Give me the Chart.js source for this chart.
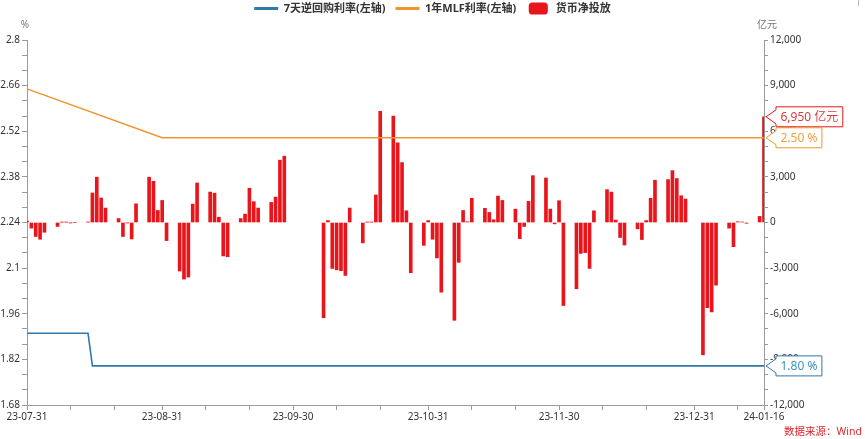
<!DOCTYPE html>
<html>
<head>
<meta charset="utf-8">
<script src="https://cdn.jsdelivr.net/npm/chart.js@4.4.1/dist/chart.umd.min.js"></script>
<style>
  html, body { margin: 0; padding: 0; background: #fff; }
  #wrap { position: relative; width: 865px; height: 439px; }
</style>
</head>
<body>
<div id="wrap"><canvas id="chart"></canvas></div>
<script>
// calendar span of the x axis
const startDate = '2023-07-31';
const endDate = '2024-01-16';

// labelled dates and the extra tick marks on the x axis
const xTickLabels = ['23-07-31', '23-08-31', '23-09-30', '23-10-31', '23-11-30', '23-12-31', '24-01-16'];
const xTickMarks = ['23-08-10', '23-08-20', '23-09-10', '23-09-20', '23-10-10', '23-10-20',
  '23-11-10', '23-11-20', '23-12-10', '23-12-20', '24-01-10'];

// axis tick labels
const leftTickLabels = [1.68, 1.82, 1.96, 2.1, 2.24, 2.38, 2.52, 2.66, 2.8];
const rightTickLabels = [-12000, -9000, -6000, -3000, 0, 3000, 6000, 9000, 12000];

// 货币净投放 (亿元), working days only
const netDates = [
  '2023-07-31', '2023-08-01', '2023-08-02', '2023-08-03', '2023-08-04',
  '2023-08-07', '2023-08-08', '2023-08-09', '2023-08-10', '2023-08-11',
  '2023-08-14', '2023-08-15', '2023-08-16', '2023-08-17', '2023-08-18',
  '2023-08-21', '2023-08-22', '2023-08-23', '2023-08-24', '2023-08-25',
  '2023-08-28', '2023-08-29', '2023-08-30', '2023-08-31', '2023-09-01',
  '2023-09-04', '2023-09-05', '2023-09-06', '2023-09-07', '2023-09-08',
  '2023-09-11', '2023-09-12', '2023-09-13', '2023-09-14', '2023-09-15',
  '2023-09-18', '2023-09-19', '2023-09-20', '2023-09-21', '2023-09-22',
  '2023-09-25', '2023-09-26', '2023-09-27', '2023-09-28',
  '2023-10-07', '2023-10-08', '2023-10-09', '2023-10-10', '2023-10-11', '2023-10-12', '2023-10-13',
  '2023-10-16', '2023-10-17', '2023-10-18', '2023-10-19', '2023-10-20',
  '2023-10-23', '2023-10-24', '2023-10-25', '2023-10-26', '2023-10-27',
  '2023-10-30', '2023-10-31', '2023-11-01', '2023-11-02', '2023-11-03',
  '2023-11-06', '2023-11-07', '2023-11-08', '2023-11-09', '2023-11-10',
  '2023-11-13', '2023-11-14', '2023-11-15', '2023-11-16', '2023-11-17',
  '2023-11-20', '2023-11-21', '2023-11-22', '2023-11-23', '2023-11-24',
  '2023-11-27', '2023-11-28', '2023-11-29', '2023-11-30', '2023-12-01',
  '2023-12-04', '2023-12-05', '2023-12-06', '2023-12-07', '2023-12-08',
  '2023-12-11', '2023-12-12', '2023-12-13', '2023-12-14', '2023-12-15',
  '2023-12-18', '2023-12-19', '2023-12-20', '2023-12-21', '2023-12-22',
  '2023-12-25', '2023-12-26', '2023-12-27', '2023-12-28', '2023-12-29',
  '2024-01-02', '2024-01-03', '2024-01-04', '2024-01-05',
  '2024-01-08', '2024-01-09', '2024-01-10', '2024-01-11', '2024-01-12',
  '2024-01-15', '2024-01-16'
];
const netValues = [
  100, -370, -920, -1100, -640,
  -260, 20, 20, -20, 0,
  20, 1940, 2980, 1610, 950,
  260, -920, -20, -1080, 1230,
  2980, 2710, 790, 1450, -1190,
  -3190, -3720, -3590, 1210, 2600,
  2000, 1930, 350, -2200, -2250,
  260, 550, 2250, 1370, 950,
  1320, 1670, 4100, 4360,
  -6260, 130, -3020, -3110, -3170, -3480, 950,
  -1340, 20, 20, 1810, 7310,
  7000, 5240, 3940, 770, -3300,
  -1500, 130, -1100, -2330, -4580,
  -6430, -2620, 790, 50, 1590,
  930, 660, 180, 1740, 1450,
  880, -1060, -260, 1390, 3080,
  2930, 880, -90, 1430, -5460,
  -4360, -2030, -1980, -3020, 770,
  2160, 2000, 160, -990, -1480,
  -420, -1120, 130, 1590, 2780,
  2820, 3410, 2890, 1760, 1540,
  -8700, -5600, -5880, -4120,
  -370, -1590, 50, 30, -50,
  400, 6950
];

// 7天逆回购利率 (%)
const repoDates = ['2023-07-31', '2023-08-14', '2023-08-15', '2024-01-16'];
const repoRates = [1.90, 1.90, 1.80, 1.80];

// 1年MLF利率 (%)
const mlfDates = ['2023-07-31', '2023-08-31', '2023-09-28', '2023-10-31', '2023-11-30', '2023-12-29', '2024-01-16'];
const mlfRates = [2.65, 2.50, 2.50, 2.50, 2.50, 2.50, 2.50];

const RED = '#e8161c';
const BLUE = '#2f7aa8';
const ORANGE = '#f0952e';
const AXIS = '#9a9a9a';
const FONT = '"Noto Sans", "Noto Sans CJK SC", sans-serif';

// every calendar day on the axis
const days = [];
for (let t = Date.parse(startDate + 'T00:00:00Z'); t <= Date.parse(endDate + 'T00:00:00Z'); t += 86400000) {
  days.push(new Date(t).toISOString().slice(2, 10));
}
function onDays(dates, values) {
  const out = days.map(() => null);
  dates.forEach((d, i) => { out[days.indexOf(d.slice(2))] = values[i]; });
  return out;
}

const markSet = new Set(xTickLabels.concat(xTickMarks).map(d => days.indexOf(d)));

// left axis: labelled ticks plus two minor ticks between each pair
const leftTicks = [];
leftTickLabels.forEach((v, i) => {
  leftTicks.push(v);
  if (i < leftTickLabels.length - 1) {
    const step = (leftTickLabels[i + 1] - v) / 3;
    leftTicks.push(v + step, v + 2 * step);
  }
});

// legend sits above the plot; give it a fixed band
const legendBand = {
  id: 'legendBand',
  beforeInit(chart) {
    const fit = chart.legend.fit;
    chart.legend.fit = function () {
      fit.call(this);
      this.height = 47;
    };
  }
};

function callout(ctx, area, y, text, color, textColor) {
  ctx.save();
  ctx.font = '12px ' + FONT;
  const tipX = area.right + 2;
  const bx = area.right + 12;
  const w = ctx.measureText(text).width + 9;
  const h = 20;
  const top = y - h / 2;
  ctx.beginPath();
  ctx.moveTo(tipX, y);
  ctx.lineTo(bx, y - 7);
  ctx.lineTo(bx, top);
  ctx.lineTo(bx + w, top);
  ctx.lineTo(bx + w, top + h);
  ctx.lineTo(bx, top + h);
  ctx.lineTo(bx, y + 7);
  ctx.closePath();
  ctx.fillStyle = '#fff';
  ctx.fill();
  ctx.strokeStyle = color;
  ctx.lineWidth = 1;
  ctx.stroke();
  ctx.fillStyle = textColor;
  ctx.textAlign = 'left';
  ctx.textBaseline = 'middle';
  ctx.fillText(text, bx + 4.5, y + 0.5);
  ctx.restore();
}

const extras = {
  id: 'extras',
  afterDraw(chart) {
    const { ctx, chartArea } = chart;
    const yL = chart.scales.y;
    const yR = chart.scales.y1;
    ctx.save();
    ctx.font = '10px ' + FONT;
    ctx.fillStyle = '#777';
    ctx.textAlign = 'center';
    ctx.textBaseline = 'middle';
    ctx.fillText('%', 25, 25);
    ctx.fillText('亿元', 767, 25);
    ctx.font = '10.5px ' + FONT;
    ctx.fillStyle = '#e0262b';
    ctx.textAlign = 'right';
    ctx.fillText('数据来源：Wind', 862, 432);
    ctx.strokeStyle = '#bbb';
    ctx.beginPath();
    ctx.moveTo(858.5, 0);
    ctx.lineTo(858.5, 6);
    ctx.stroke();
    ctx.restore();

    const lastNet = netValues[netValues.length - 1];
    const lastMlf = mlfRates[mlfRates.length - 1];
    const lastRepo = repoRates[repoRates.length - 1];
    callout(ctx, chartArea, yR.getPixelForValue(lastNet), lastNet.toLocaleString('en-US') + ' 亿元', RED, '#e0383c');
    callout(ctx, chartArea, yL.getPixelForValue(lastMlf), lastMlf.toFixed(2) + ' %', ORANGE, '#f0a040');
    callout(ctx, chartArea, yL.getPixelForValue(lastRepo), lastRepo.toFixed(2) + ' %', BLUE, '#3a93c2');
  }
};

const tickFont = { size: 10, family: FONT };

new Chart(document.getElementById('chart'), {
  data: {
    labels: days,
    datasets: [
      {
        type: 'line',
        label: '7天逆回购利率(左轴)',
        data: onDays(repoDates, repoRates),
        yAxisID: 'y',
        borderColor: BLUE,
        backgroundColor: BLUE,
        borderWidth: 1.6,
        pointRadius: 0,
        spanGaps: true,
        order: 0
      },
      {
        type: 'line',
        label: '1年MLF利率(左轴)',
        data: onDays(mlfDates, mlfRates),
        yAxisID: 'y',
        borderColor: ORANGE,
        backgroundColor: ORANGE,
        borderWidth: 1.5,
        pointRadius: 0,
        spanGaps: true,
        order: 0
      },
      {
        type: 'bar',
        label: '货币净投放',
        data: onDays(netDates, netValues),
        yAxisID: 'y1',
        backgroundColor: RED,
        borderWidth: 0,
        barThickness: 3,
        order: 1
      }
    ]
  },
  options: {
    responsive: true,
    maintainAspectRatio: false,
    animation: false,
    layout: { padding: { top: -7, left: 0, right: 0, bottom: 0 } },
    plugins: {
      tooltip: { enabled: false },
      legend: {
        position: 'top',
        labels: {
          usePointStyle: true,
          pointStyleWidth: 24,
          boxHeight: 10,
          padding: 10,
          color: '#333',
          font: { size: 11, weight: 'bold', family: FONT },
          generateLabels(chart) {
            return chart.data.datasets.map((ds, i) => ({
              text: ds.label,
              datasetIndex: i,
              fillStyle: ds.backgroundColor,
              strokeStyle: ds.type === 'line' ? ds.borderColor : ds.backgroundColor,
              lineWidth: ds.type === 'line' ? 3 : 0,
              pointStyle: ds.type === 'line' ? 'line' : 'rectRounded',
              fontColor: '#333',
              hidden: false
            }));
          }
        }
      }
    },
    scales: {
      x: {
        type: 'category',
        offset: false,
        afterFit(scale) { scale.height = 34; },
        border: { display: true, color: AXIS },
        grid: {
          offset: false,
          drawOnChartArea: false,
          drawTicks: true,
          tickLength: 5,
          tickColor: ctx => markSet.has(ctx.index) ? AXIS : 'rgba(0,0,0,0)'
        },
        ticks: {
          autoSkip: false,
          maxRotation: 0,
          minRotation: 0,
          padding: 1,
          color: '#333',
          font: tickFont,
          callback(value) {
            const lab = this.getLabelForValue(value);
            return xTickLabels.includes(lab) ? lab : '';
          }
        }
      },
      y: {
        position: 'left',
        min: 1.68,
        max: 2.8,
        afterFit(scale) { scale.width = 27; },
        afterBuildTicks(scale) { scale.ticks = leftTicks.map(v => ({ value: v })); },
        border: { display: true, color: AXIS },
        grid: { drawOnChartArea: false, drawTicks: true, tickLength: 5, tickColor: AXIS },
        ticks: {
          padding: 2,
          color: '#333',
          font: tickFont,
          callback(value) {
            const r = Math.round(value * 100) / 100;
            return leftTickLabels.some(t => Math.abs(t - r) < 1e-6) ? String(r) : '';
          }
        }
      },
      y1: {
        position: 'right',
        min: -12000,
        max: 12000,
        afterFit(scale) { scale.width = 101; },
        border: { display: true, color: AXIS },
        grid: { drawOnChartArea: false, drawTicks: true, tickLength: 4, tickColor: AXIS },
        ticks: {
          stepSize: 1000,
          autoSkip: false,
          padding: 2,
          color: '#333',
          font: tickFont,
          callback(value) {
            return rightTickLabels.includes(value) ? value.toLocaleString('en-US') : '';
          }
        }
      }
    }
  },
  plugins: [legendBand, extras]
});
</script>
</body>
</html>
